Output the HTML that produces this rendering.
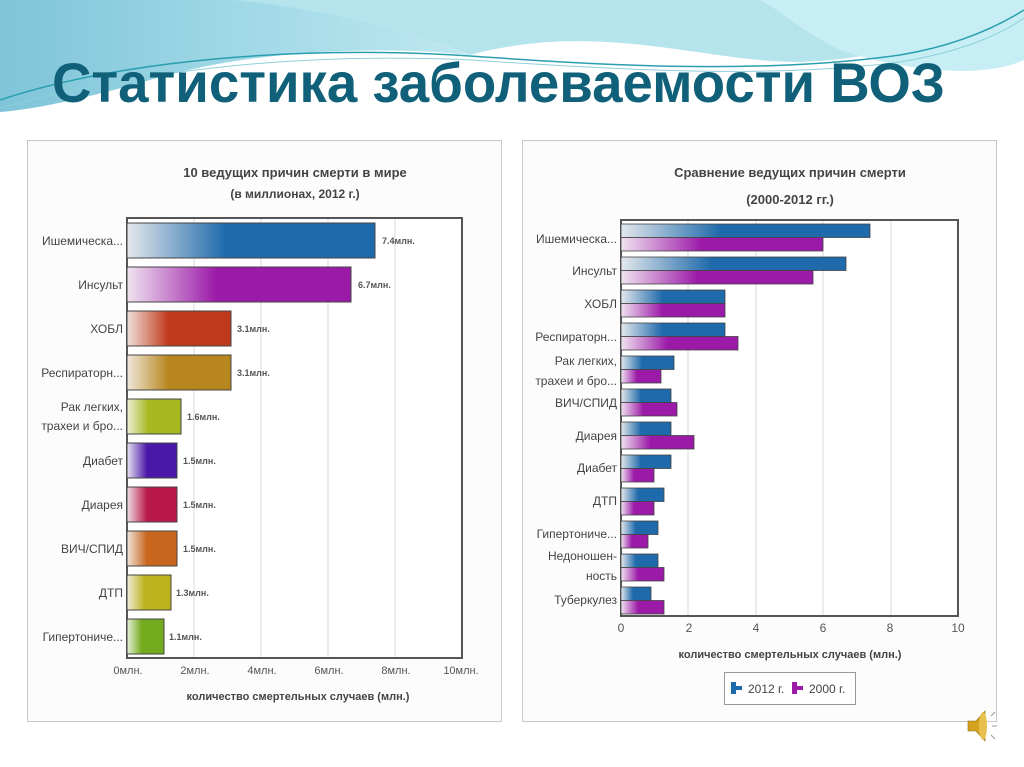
<!DOCTYPE html>
<html><head><meta charset="utf-8"><style>
html,body{margin:0;padding:0;background:#fff}
svg{display:block}
text{font-family:"Liberation Sans",sans-serif}
</style></head><body>
<svg width="1024" height="767" viewBox="0 0 1024 767" xmlns="http://www.w3.org/2000/svg">
<defs>
<linearGradient id="bgw" x1="0" y1="0" x2="1" y2="0">
<stop offset="0" stop-color="#7fc4d8"/><stop offset="0.5" stop-color="#9fd8e6"/><stop offset="1" stop-color="#bfe8f0"/></linearGradient>
<linearGradient id="gL0" x1="0" y1="0" x2="1" y2="0"><stop offset="0" stop-color="#e4e8ec"/><stop offset="0.4" stop-color="#1f6aab"/></linearGradient>
<linearGradient id="gL1" x1="0" y1="0" x2="1" y2="0"><stop offset="0" stop-color="#f0e4f0"/><stop offset="0.4" stop-color="#9b1aa8"/></linearGradient>
<linearGradient id="gL2" x1="0" y1="0" x2="1" y2="0"><stop offset="0" stop-color="#f0e0dc"/><stop offset="0.4" stop-color="#c0391b"/></linearGradient>
<linearGradient id="gL3" x1="0" y1="0" x2="1" y2="0"><stop offset="0" stop-color="#f0e8dc"/><stop offset="0.4" stop-color="#b8861e"/></linearGradient>
<linearGradient id="gL4" x1="0" y1="0" x2="1" y2="0"><stop offset="0" stop-color="#eef0d8"/><stop offset="0.4" stop-color="#a6b820"/></linearGradient>
<linearGradient id="gL5" x1="0" y1="0" x2="1" y2="0"><stop offset="0" stop-color="#e8e4f0"/><stop offset="0.4" stop-color="#4a18a8"/></linearGradient>
<linearGradient id="gL6" x1="0" y1="0" x2="1" y2="0"><stop offset="0" stop-color="#f0e0e6"/><stop offset="0.4" stop-color="#b8194a"/></linearGradient>
<linearGradient id="gL7" x1="0" y1="0" x2="1" y2="0"><stop offset="0" stop-color="#f0e6dc"/><stop offset="0.4" stop-color="#c8661e"/></linearGradient>
<linearGradient id="gL8" x1="0" y1="0" x2="1" y2="0"><stop offset="0" stop-color="#f0eedc"/><stop offset="0.4" stop-color="#bcb21e"/></linearGradient>
<linearGradient id="gL9" x1="0" y1="0" x2="1" y2="0"><stop offset="0" stop-color="#e8f0dc"/><stop offset="0.4" stop-color="#74aa1e"/></linearGradient>
<linearGradient id="gB" x1="0" y1="0" x2="1" y2="0"><stop offset="0" stop-color="#e4e8ec"/><stop offset="0.4" stop-color="#1f6aab"/></linearGradient>
<linearGradient id="gP" x1="0" y1="0" x2="1" y2="0"><stop offset="0" stop-color="#f0e4f0"/><stop offset="0.4" stop-color="#9b1aa8"/></linearGradient>
</defs>
<!-- background waves -->
<path d="M0 0 H240 C330 10 420 35 470 55 C380 45 250 50 150 80 C80 100 30 110 0 112 Z" fill="url(#bgw)"/>
<path d="M230 0 H1024 V40 C960 30 880 60 800 62 C700 62 600 20 470 55 C420 35 330 10 230 0 Z" fill="#a8dfea" opacity="0.85"/>
<path d="M760 0 H1024 V60 C980 80 900 70 840 50 C800 30 780 10 760 0 Z" fill="#c6eef4"/>
<path d="M0 100 C120 60 300 45 470 56 C600 65 760 75 900 55 C960 45 1000 25 1024 10" fill="none" stroke="#2a9fb0" stroke-width="1.5"/>
<path d="M0 108 C140 70 300 52 470 60 C600 68 760 80 900 62 C960 52 1000 35 1024 18" fill="none" stroke="#8fcfda" stroke-width="1"/>
<text x="52" y="102" font-size="56" font-weight="bold" fill="#0f6078" textLength="893" lengthAdjust="spacingAndGlyphs">Статистика заболеваемости ВОЗ</text>

<!-- panels -->
<rect x="27.5" y="140.5" width="474" height="581" fill="#fcfcfc" stroke="#c8c8c8"/>
<rect x="522.5" y="140.5" width="474" height="581" fill="#fcfcfc" stroke="#c8c8c8"/>

<!-- LEFT CHART -->
<text x="295" y="177" font-size="13" font-weight="bold" fill="#444" text-anchor="middle">10 ведущих причин смерти в мире</text>
<text x="295" y="198" font-size="12" font-weight="bold" fill="#444" text-anchor="middle">(в миллионах, 2012 г.)</text>
<rect x="127" y="218" width="335" height="440" fill="#fff"/>
<g stroke="#d8d8d8" stroke-width="1">
<line x1="194" y1="218" x2="194" y2="658"/><line x1="261" y1="218" x2="261" y2="658"/>
<line x1="328" y1="218" x2="328" y2="658"/><line x1="395" y1="218" x2="395" y2="658"/>
</g>
<rect x="127" y="218" width="335" height="440" fill="none" stroke="#555" stroke-width="2"/>
<g stroke="#444" stroke-width="1">
<rect x="127" y="223" width="248" height="35" fill="url(#gL0)"/>
<rect x="127" y="267" width="224" height="35" fill="url(#gL1)"/>
<rect x="127" y="311" width="104" height="35" fill="url(#gL2)"/>
<rect x="127" y="355" width="104" height="35" fill="url(#gL3)"/>
<rect x="127" y="399" width="54" height="35" fill="url(#gL4)"/>
<rect x="127" y="443" width="50" height="35" fill="url(#gL5)"/>
<rect x="127" y="487" width="50" height="35" fill="url(#gL6)"/>
<rect x="127" y="531" width="50" height="35" fill="url(#gL7)"/>
<rect x="127" y="575" width="44" height="35" fill="url(#gL8)"/>
<rect x="127" y="619" width="37" height="35" fill="url(#gL9)"/>
</g>
<g font-size="9" font-weight="bold" fill="#555">
<text x="382" y="244">7.4млн.</text><text x="358" y="288">6.7млн.</text>
<text x="237" y="332">3.1млн.</text><text x="237" y="376">3.1млн.</text>
<text x="187" y="420">1.6млн.</text><text x="183" y="464">1.5млн.</text>
<text x="183" y="508">1.5млн.</text><text x="183" y="552">1.5млн.</text>
<text x="176" y="596">1.3млн.</text><text x="169" y="640">1.1млн.</text>
</g>
<g font-size="12" fill="#444" text-anchor="end">
<text x="123" y="245">Ишемическа...</text><text x="123" y="289">Инсульт</text>
<text x="123" y="333">ХОБЛ</text><text x="123" y="377">Респираторн...</text>
<text x="123" y="411">Рак легких,</text><text x="123" y="430">трахеи и бро...</text>
<text x="123" y="465">Диабет</text><text x="123" y="509">Диарея</text>
<text x="123" y="553">ВИЧ/СПИД</text><text x="123" y="597">ДТП</text>
<text x="123" y="641">Гипертониче...</text>
</g>
<g font-size="11" fill="#555" text-anchor="middle">
<text x="128" y="674">0млн.</text><text x="195" y="674">2млн.</text><text x="262" y="674">4млн.</text>
<text x="329" y="674">6млн.</text><text x="396" y="674">8млн.</text><text x="461" y="674">10млн.</text>
</g>
<text x="298" y="700" font-size="11" font-weight="bold" fill="#444" text-anchor="middle">количество смертельных случаев (млн.)</text>

<!-- RIGHT CHART -->
<text x="790" y="177" font-size="13" font-weight="bold" fill="#444" text-anchor="middle">Сравнение ведущих причин смерти</text>
<text x="790" y="204" font-size="13" font-weight="bold" fill="#444" text-anchor="middle">(2000-2012 гг.)</text>
<rect x="621" y="220" width="337" height="396" fill="#fff"/>
<g stroke="#d8d8d8" stroke-width="1">
<line x1="688" y1="220" x2="688" y2="616"/><line x1="756" y1="220" x2="756" y2="616"/>
<line x1="823" y1="220" x2="823" y2="616"/><line x1="891" y1="220" x2="891" y2="616"/>
</g>
<rect x="621" y="220" width="337" height="396" fill="none" stroke="#555" stroke-width="2"/>
<g stroke="#444" stroke-width="0.8">
<rect x="621" y="224" width="249" height="13.5" fill="url(#gB)"/><rect x="621" y="237.5" width="202" height="13.5" fill="url(#gP)"/>
<rect x="621" y="257" width="225" height="13.5" fill="url(#gB)"/><rect x="621" y="270.5" width="192" height="13.5" fill="url(#gP)"/>
<rect x="621" y="290" width="104" height="13.5" fill="url(#gB)"/><rect x="621" y="303.5" width="104" height="13.5" fill="url(#gP)"/>
<rect x="621" y="323" width="104" height="13.5" fill="url(#gB)"/><rect x="621" y="336.5" width="117" height="13.5" fill="url(#gP)"/>
<rect x="621" y="356" width="53" height="13.5" fill="url(#gB)"/><rect x="621" y="369.5" width="40" height="13.5" fill="url(#gP)"/>
<rect x="621" y="389" width="50" height="13.5" fill="url(#gB)"/><rect x="621" y="402.5" width="56" height="13.5" fill="url(#gP)"/>
<rect x="621" y="422" width="50" height="13.5" fill="url(#gB)"/><rect x="621" y="435.5" width="73" height="13.5" fill="url(#gP)"/>
<rect x="621" y="455" width="50" height="13.5" fill="url(#gB)"/><rect x="621" y="468.5" width="33" height="13.5" fill="url(#gP)"/>
<rect x="621" y="488" width="43" height="13.5" fill="url(#gB)"/><rect x="621" y="501.5" width="33" height="13.5" fill="url(#gP)"/>
<rect x="621" y="521" width="37" height="13.5" fill="url(#gB)"/><rect x="621" y="534.5" width="27" height="13.5" fill="url(#gP)"/>
<rect x="621" y="554" width="37" height="13.5" fill="url(#gB)"/><rect x="621" y="567.5" width="43" height="13.5" fill="url(#gP)"/>
<rect x="621" y="587" width="30" height="13.5" fill="url(#gB)"/><rect x="621" y="600.5" width="43" height="13.5" fill="url(#gP)"/>
</g>
<g font-size="12" fill="#444" text-anchor="end">
<text x="617" y="243">Ишемическа...</text><text x="617" y="275">Инсульт</text>
<text x="617" y="308">ХОБЛ</text><text x="617" y="341">Респираторн...</text>
<text x="617" y="365">Рак легких,</text><text x="617" y="385">трахеи и бро...</text>
<text x="617" y="407">ВИЧ/СПИД</text><text x="617" y="440">Диарея</text>
<text x="617" y="472">Диабет</text><text x="617" y="505">ДТП</text>
<text x="617" y="538">Гипертониче...</text>
<text x="617" y="560">Недоношен-</text><text x="617" y="580">ность</text>
<text x="617" y="604">Туберкулез</text>
</g>
<g font-size="12" fill="#555" text-anchor="middle">
<text x="621" y="632">0</text><text x="689" y="632">2</text><text x="756" y="632">4</text>
<text x="823" y="632">6</text><text x="890" y="632">8</text><text x="958" y="632">10</text>
</g>
<text x="790" y="658" font-size="11" font-weight="bold" fill="#444" text-anchor="middle">количество смертельных случаев (млн.)</text>
<rect x="724.5" y="672.5" width="131" height="32" fill="#fff" stroke="#999"/>
<g fill="#1f6aab"><rect x="731" y="682" width="5" height="4"/><rect x="731" y="686" width="11" height="4"/><rect x="731" y="690" width="5" height="4"/></g>
<text x="748" y="693" font-size="12" fill="#444">2012 г.</text>
<g fill="#9b1aa8"><rect x="792" y="682" width="5" height="4"/><rect x="792" y="686" width="11" height="4"/><rect x="792" y="690" width="5" height="4"/></g>
<text x="809" y="693" font-size="12" fill="#444">2000 г.</text>

<!-- speaker icon -->
<path d="M968 721 L976 721 L985 711 L985 741 L976 731 L968 731 Z" fill="#d4a21e" stroke="#8a6a10" stroke-width="0.6"/>
<ellipse cx="983" cy="726" rx="4" ry="14" fill="#e8c050"/>
<g stroke="#999" stroke-width="1"><line x1="991" y1="716" x2="995" y2="712"/><line x1="992" y1="726" x2="997" y2="726"/><line x1="991" y1="735" x2="995" y2="739"/></g>
</svg>
</body></html>
